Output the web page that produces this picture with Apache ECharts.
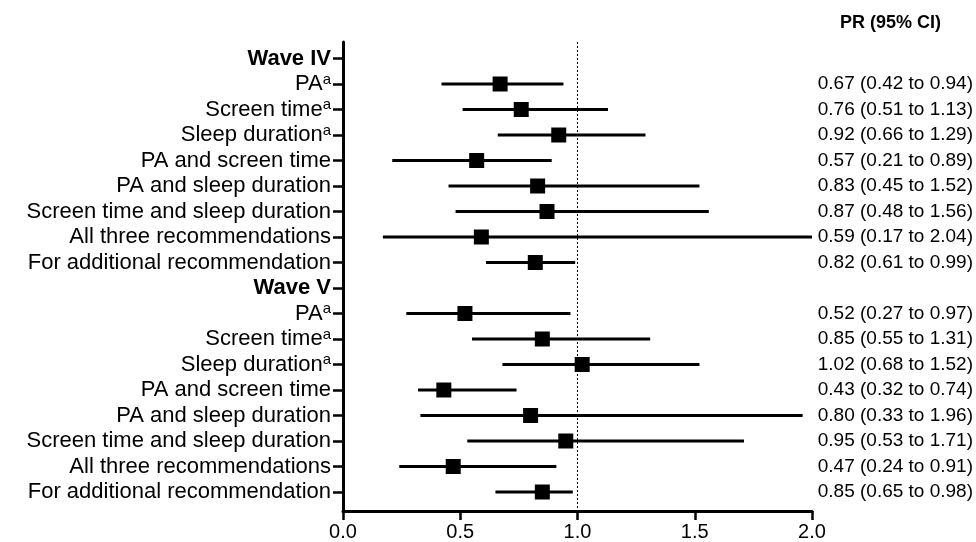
<!DOCTYPE html>
<html>
<head>
<meta charset="utf-8">
<script src="https://cdn.jsdelivr.net/npm/echarts@6/dist/echarts.min.js"></script>
<style>html,body{margin:0;padding:0;background:#fff}#c{width:976px;height:542px}</style>
</head>
<body>
<div id="c"></div>
<script>
// Row labels (top to bottom)
const rowLabels = [
  'Wave IV', 'PA', 'Screen time', 'Sleep duration', 'PA and screen time',
  'PA and sleep duration', 'Screen time and sleep duration', 'All three recommendations',
  'For additional recommendation',
  'Wave V', 'PA', 'Screen time', 'Sleep duration', 'PA and screen time',
  'PA and sleep duration', 'Screen time and sleep duration', 'All three recommendations',
  'For additional recommendation'
];
const headerRows = [0, 9];
const superscriptRows = [1, 2, 3, 10, 11, 12];
// Prevalence ratios and 95% CI
const prValues = [null, 0.67, 0.76, 0.92, 0.57, 0.83, 0.87, 0.59, 0.82,
                  null, 0.52, 0.85, 1.02, 0.43, 0.80, 0.95, 0.47, 0.85];
const ciLow    = [null, 0.42, 0.51, 0.66, 0.21, 0.45, 0.48, 0.17, 0.61,
                  null, 0.27, 0.55, 0.68, 0.32, 0.33, 0.53, 0.24, 0.65];
const ciHigh   = [null, 0.94, 1.13, 1.29, 0.89, 1.52, 1.56, 2.04, 0.99,
                  null, 0.97, 1.31, 1.52, 0.74, 1.96, 1.71, 0.91, 0.98];
const xTicks = [0, 0.5, 1.0, 1.5, 2.0];
const refLine = 1.0;

const FONT = "'Liberation Sans', Arial, Helvetica, sans-serif";
const rowIdx = rowLabels.map((_, i) => i);
const dataRows = rowIdx.filter(i => prValues[i] != null);
const fmt = v => v.toFixed(2);
const prText = rowIdx.map(i => prValues[i] == null ? '' :
  fmt(prValues[i]) + ' (' + fmt(ciLow[i]) + ' to ' + fmt(ciHigh[i]) + ')');

const chart = echarts.init(document.getElementById('c'));
chart.setOption({
  animation: false,
  backgroundColor: '#fff',
  title: {
    text: 'PR (95% CI)',
    right: 30, top: 9,
    textStyle: { fontFamily: FONT, fontSize: 18, fontWeight: 'bold', color: '#000' }
  },
  grid: { left: 343, right: 163, top: 42, bottom: 31, containLabel: false },
  xAxis: {
    type: 'value', min: xTicks[0], max: xTicks[xTicks.length - 1], interval: 0.5,
    axisLine: { show: true, onZero: false, lineStyle: { color: '#000', width: 3 } },
    axisTick: { show: true, length: 9, lineStyle: { color: '#000', width: 2.5 } },
    axisLabel: { color: '#000', fontFamily: FONT, fontSize: 20, margin: 11,
      formatter: v => v.toFixed(1) },
    splitLine: { show: false }
  },
  yAxis: [{
    type: 'value', inverse: true, min: -0.647, max: 17.745,
    axisLine: { show: true, onZero: false, lineStyle: { color: '#000', width: 3 } },
    axisTick: { show: true, length: 10, customValues: rowIdx, lineStyle: { color: '#000', width: 2.5 } },
    axisLabel: {
      customValues: rowIdx, margin: 12, color: '#000', fontFamily: FONT, fontSize: 22,
      formatter: v => {
        const i = Math.round(v);
        if (headerRows.includes(i)) return '{b|' + rowLabels[i] + '}';
        if (superscriptRows.includes(i)) return '{n|' + rowLabels[i] + '}{s|a}';
        return '{n|' + rowLabels[i] + '}';
      },
      rich: {
        n: { fontFamily: FONT, fontSize: 22, color: '#000', lineHeight: 24 },
        b: { fontFamily: FONT, fontSize: 22, color: '#000', fontWeight: 'bold', lineHeight: 24 },
        s: { fontFamily: FONT, fontSize: 15, color: '#000', verticalAlign: 'top', lineHeight: 24, padding: [0, 0, 8, 0] }
      }
    },
    splitLine: { show: false }
  }, {
    type: 'value', inverse: true, min: -0.647, max: 17.745, position: 'right',
    axisLine: { show: false }, axisTick: { show: false },
    axisLabel: {
      customValues: dataRows, margin: 161, align: 'right', color: '#000',
      fontFamily: FONT, fontSize: 19,
      formatter: v => prText[Math.round(v)]
    },
    splitLine: { show: false }
  }],
  series: [{
    type: 'custom',
    clip: true,
    data: dataRows.map(i => [ciLow[i], ciHigh[i], i]),
    renderItem: (params, api) => {
      const p1 = api.coord([api.value(0), api.value(2)]);
      const p2 = api.coord([api.value(1), api.value(2)]);
      return { type: 'line', shape: { x1: p1[0], y1: p1[1], x2: p2[0], y2: p2[1] },
        style: { stroke: '#000', lineWidth: 3 } };
    },
    encode: { x: [0, 1], y: 2 },
    markLine: {
      silent: true, symbol: 'none', label: { show: false },
      lineStyle: { color: '#000', type: [2, 2], width: 1 },
      data: [{ xAxis: refLine }]
    }
  }, {
    type: 'scatter',
    symbol: 'rect', symbolSize: 15,
    itemStyle: { color: '#000', opacity: 1 },
    data: dataRows.map(i => [prValues[i], i]),
    z: 5
  }]
});
</script>
</body>
</html>
